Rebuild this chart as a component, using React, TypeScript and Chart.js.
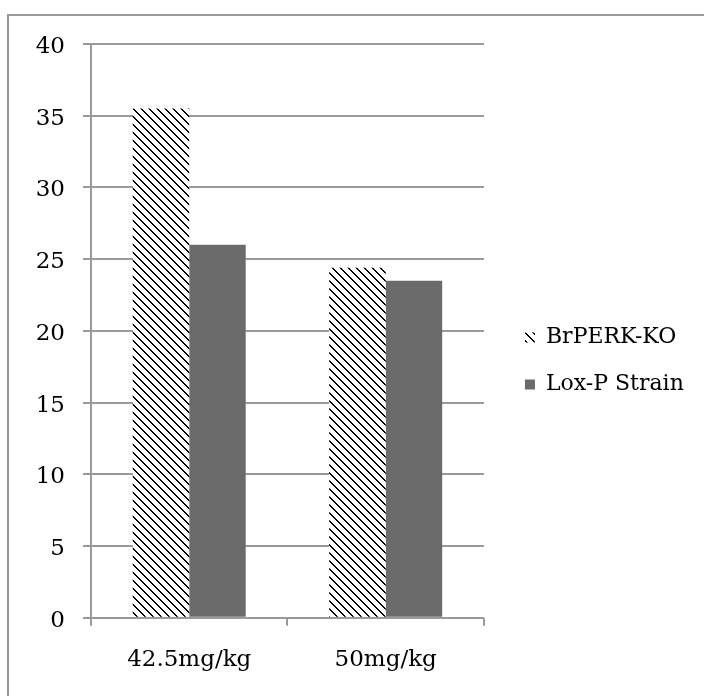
import React, { useEffect, useRef } from "react";
import { Chart, registerables } from "chart.js";

Chart.register(...registerables);

const categories = ["42.5mg/kg", "50mg/kg"];
const brperkKO = [35.5, 24.4];
const loxPStrain = [26, 23.5];
const yTicks = [0, 5, 10, 15, 20, 25, 30, 35, 40];

const FONT = "'DejaVu Serif', serif";
const GRID = "#9a9a9a";

// Black "\\" diagonal hatch on white, 8px repeat
function makeHatch(): CanvasPattern | string {
  const tile = document.createElement("canvas");
  tile.width = 8;
  tile.height = 8;
  const c = tile.getContext("2d");
  if (!c) return "#888";
  c.fillStyle = "#ffffff";
  c.fillRect(0, 0, 8, 8);
  c.fillStyle = "#000000";
  for (let i = 0; i < 8; i++) {
    c.fillRect(i, i, 1, 1);
    c.fillRect((i + 1) % 8, i, 1, 1);
  }
  return c.createPattern(tile, "repeat") || "#888";
}

export default function App() {
  const ref = useRef<HTMLCanvasElement | null>(null);

  useEffect(() => {
    if (!ref.current) return;
    const hatch = makeHatch();
    const chart = new Chart(ref.current, {
      type: "bar",
      data: {
        labels: categories,
        datasets: [
          { label: "BrPERK-KO", data: brperkKO, backgroundColor: hatch as any, borderWidth: 0 },
          { label: "Lox-P Strain", data: loxPStrain, backgroundColor: "#6b6b6b", borderWidth: 0 },
        ],
      },
      options: {
        animation: false,
        responsive: false,
        devicePixelRatio: 1,
        layout: { padding: { left: 17.7, top: 44, right: 10.2, bottom: 18 } },
        datasets: { bar: { categoryPercentage: 0.575, barPercentage: 1 } },
        plugins: {
          tooltip: { enabled: false },
          legend: {
            position: "right",
            maxWidth: 400,
            labels: {
              boxWidth: 10,
              boxHeight: 10,
              padding: 25,
              color: "#000",
              font: { family: FONT, size: 22 },
            },
          },
        },
        scales: {
          x: {
            grid: { display: true, drawOnChartArea: false, drawTicks: true, tickLength: 8, color: GRID, lineWidth: 2 },
            border: { display: false },
            ticks: { color: "#000", padding: 20.5, font: { family: FONT, size: 23 } },
            afterFit: (s: any) => {
              s.height = 60.3;
            },
          },
          y: {
            min: 0,
            max: 40,
            afterBuildTicks: (s: any) => {
              s.ticks = yTicks.map((v) => ({ value: v }));
            },
            grid: { color: GRID, lineWidth: 2, tickLength: 8 },
            border: { display: true, color: GRID, width: 2 },
            ticks: { color: "#000", padding: 18, labelOffset: 3, font: { family: FONT, size: 23 } },
          },
          legendGap: {
            type: "linear",
            position: "right",
            display: true,
            grid: { display: false, drawTicks: false },
            border: { display: false },
            ticks: { display: false },
            afterFit: (s: any) => {
              s.width = 16;
            },
          },
        },
      } as any,
    });
    return () => chart.destroy();
  }, []);

  return (
    <div style={{ position: "fixed", left: 0, top: 0, width: 704, height: 696, overflow: "hidden", background: "#fff" }}>
      <div
        style={{
          position: "absolute",
          left: 7,
          top: 14,
          width: 2000,
          height: 2000,
          borderLeft: "2px solid #9a9a9a",
          borderTop: "2px solid #9a9a9a",
        }}
      />
      <canvas ref={ref} width={704} height={696} style={{ position: "absolute", left: 0, top: 0 }} />
    </div>
  );
}
